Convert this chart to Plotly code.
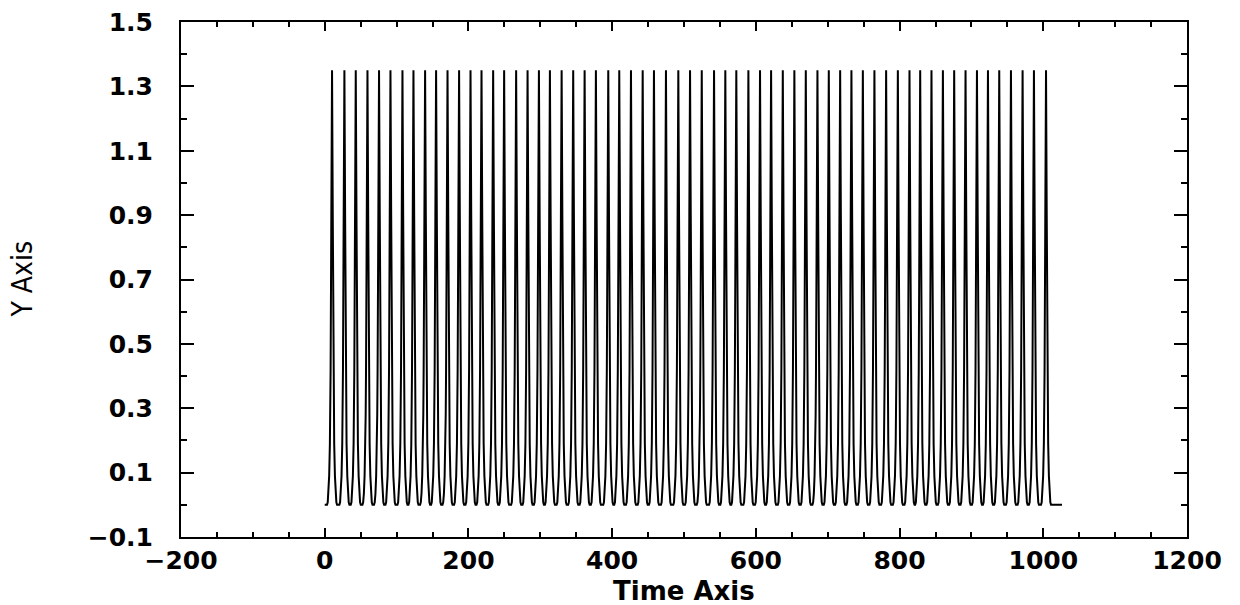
import plotly.graph_objects as go

# Times at which each spike reaches its maximum
peak_times = [
    10.2, 27.4, 43.2, 59.5, 75.6, 91.5, 108.2, 123.5, 139.7, 155.0,
    170.9, 187.0, 202.9, 218.2, 234.4, 249.7, 266.4, 282.3, 298.1, 313.4,
    329.7, 345.8, 361.7, 377.4, 394.6, 409.9, 426.2, 442.5, 458.2, 474.9,
    492.1, 508.4, 524.7, 541.8, 557.5, 572.8, 589.6, 605.8, 621.2, 637.5,
    653.6, 669.5, 685.7, 701.5, 717.3, 733.0, 748.9, 765.0, 781.3, 797.6,
    813.8, 828.7, 844.4, 860.3, 876.0, 891.8, 907.7, 923.0, 938.7, 955.0,
    971.2, 987.0, 1003.8,
]

# Shape of one spike: time offset from the peak and the signal value there
spike_offsets = [-7, -6, -5, -4, -3, -2.5, -2, -1, 0, 1, 2, 2.5, 3, 4, 5, 6, 7]
spike_values = [0.0, 0.008, 0.035, 0.09, 0.19, 0.28, 0.42, 0.9, 1.35,
                0.9, 0.42, 0.28, 0.19, 0.09, 0.035, 0.008, 0.0]

# Start and end of the recorded signal (flat at zero)
t_start, t_end = 0.0, 1026.0
baseline = 0.0

t = [t_start]
y = [baseline]
for p in peak_times:
    for off, v in zip(spike_offsets, spike_values):
        t.append(p + off)
        y.append(v)
t.append(t_end)
y.append(baseline)

x_ticks = [-200, 0, 200, 400, 600, 800, 1000, 1200]
y_ticks = [-0.1, 0.1, 0.3, 0.5, 0.7, 0.9, 1.1, 1.3, 1.5]

tick_font = dict(family="DejaVu Sans", size=25, color="black", weight="bold")

fig = go.Figure(
    go.Scatter(x=t, y=y, mode="lines", line=dict(color="black", width=2),
               showlegend=False, hoverinfo="skip")
)

axis_common = dict(
    showline=True, linecolor="black", linewidth=2, mirror="ticks",
    showgrid=False, zeroline=False, ticks="inside", tickcolor="black",
    tickwidth=2, tickfont=tick_font,
)

fig.update_xaxes(
    **axis_common,
    range=[-200, 1200], tickvals=x_ticks,
    ticktext=[str(v) if v >= 0 else "\u2212" + str(-v) for v in x_ticks],
    ticklen=9, ticklabelstandoff=0,
    minor=dict(dtick=50, tick0=0, ticks="inside", ticklen=5,
               tickcolor="black", tickwidth=1.5),
)
fig.update_yaxes(
    **axis_common,
    range=[-0.1, 1.5], tickvals=y_ticks,
    ticktext=[f"{v:.1f}" if v >= 0 else "\u2212" + f"{-v:.1f}" for v in y_ticks],
    ticklen=13, ticklabelstandoff=21,
    minor=dict(dtick=0.1, tick0=0.0, ticks="inside", ticklen=6,
               tickcolor="black", tickwidth=1.5),
)

fig.update_layout(
    width=1240, height=605,
    margin=dict(l=181, r=53, t=22, b=68, autoexpand=False),
    paper_bgcolor="white", plot_bgcolor="white",
    annotations=[
        dict(text="Time Axis", xref="paper", yref="paper", x=0.5, y=-0.104,
             xanchor="center", yanchor="middle", showarrow=False,
             font=dict(family="DejaVu Sans", size=26, color="black", weight="bold")),
        dict(text="Y Axis", xref="paper", yref="paper", x=-0.158, y=0.5,
             xanchor="center", yanchor="middle", showarrow=False, textangle=-90,
             font=dict(family="Liberation Sans Narrow, DejaVu Sans Condensed, sans-serif",
                       size=28, color="black")),
    ],
)

fig.write_html("out.html")
